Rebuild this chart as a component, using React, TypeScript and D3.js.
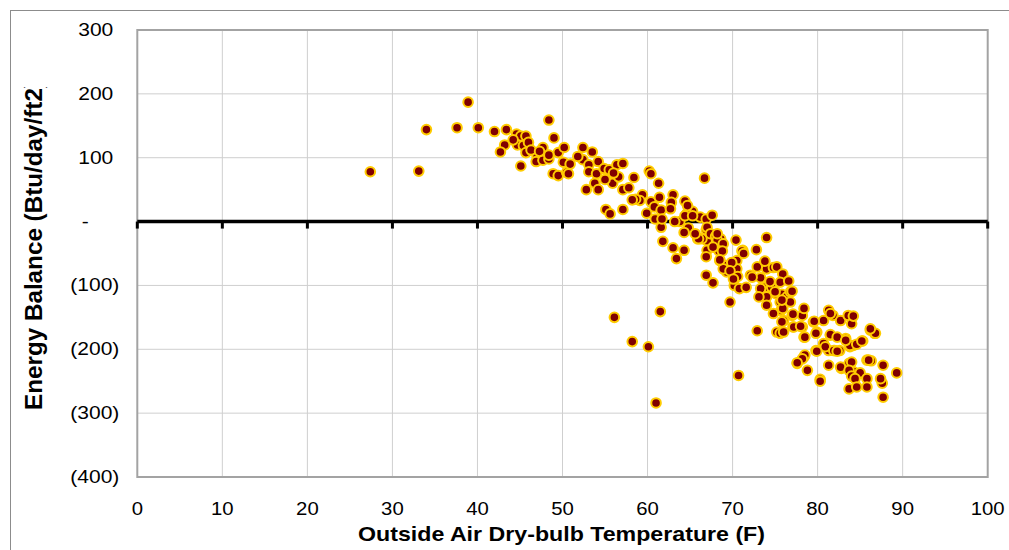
import React, { useEffect, useRef } from 'react';
import * as d3 from 'd3';

// outside air dry-bulb temperature (F) for each day
const outsideTemp = [
  27.4, 33.1, 34.0, 37.6, 38.9, 40.1, 42.0, 43.4, 43.2, 42.7,
  44.6, 45.1, 45.7, 44.7, 45.4, 46.0, 45.7, 45.1, 48.4, 49.0,
  47.7, 47.0, 46.9, 47.7, 48.4, 49.5, 50.2, 48.9, 49.5, 50.1,
  50.5, 48.4, 50.9, 50.7, 52.4, 53.5, 52.4, 53.1, 54.2, 53.1,
  54.0, 54.9, 55.5, 56.4, 57.1, 53.8, 52.8, 54.2, 55.9, 56.6,
  57.1, 57.8, 58.4, 55.1, 55.6, 57.1, 60.2, 60.4, 61.3, 59.4,
  59.1, 60.4, 61.4, 60.8, 59.9, 61.6, 61.6, 61.8, 63.0, 64.3,
  63.4, 66.7, 64.4, 65.3, 64.6, 63.8, 63.2, 66.2, 64.8, 65.9,
  66.9, 67.0, 67.0, 66.9, 66.9, 58.6, 58.2, 60.9, 61.7, 63.0,
  62.8, 62.7, 64.7, 64.4, 65.3, 64.3, 66.9, 67.6, 67.0, 66.4,
  67.4, 68.0, 68.6, 68.2, 68.9, 68.4, 68.5, 69.3, 69.3, 70.4,
  71.2, 70.5, 70.5, 70.6, 70.2, 70.8, 71.6, 72.1, 72.8, 72.9,
  73.3, 74.0, 74.0, 73.8, 74.6, 74.8, 75.2, 75.9, 75.6, 75.1,
  75.8, 75.6, 75.7, 76.4, 76.8, 76.6, 76.0, 75.2, 75.8, 77.0,
  77.1, 78.2, 78.4, 78.4, 79.5, 79.9, 80.7, 81.3, 81.8, 82.7,
  83.6, 84.0, 79.8, 80.7, 81.3, 82.0, 82.6, 81.5, 83.3, 83.8,
  84.2, 85.3, 86.2, 86.7, 77.6, 78.4, 78.8, 80.3, 81.3, 82.8,
  83.7, 84.2, 84.9, 85.8, 86.3, 87.7, 89.3, 70.7, 72.9, 69.7,
  67.7, 61.5, 60.1, 58.2, 56.1, 61.0, 71.1, 71.3, 69.9, 68.9,
  69.7, 68.8, 67.7, 68.2, 66.0, 65.6, 70.1, 72.3, 73.8, 74.4,
  73.3, 74.0, 75.0, 77.0, 74.0, 74.8, 75.9, 77.2, 78.2, 78.5,
  79.8, 75.6, 73.1, 76.8, 75.8, 77.1, 76.0, 78.0, 79.6, 81.5,
  84.2, 81.5, 82.3, 83.8, 84.6, 85.2, 83.3, 80.9, 81.9, 82.3,
  79.9, 78.5, 78.2, 77.6, 82.7, 84.0, 83.7, 85.0, 84.0, 84.4,
  85.8, 86.0, 87.6, 86.8, 80.3, 83.7, 84.6, 85.8, 87.7, 87.4,
  86.2, 68.5, 46.3, 44.2, 47.3, 51.8, 55.0, 56.0,
];

// energy balance (Btu/day/ft2), same order as outsideTemp
const energyBalance = [
  78, 79, 144, 147, 187, 147, 141, 144, 120, 109,
  137, 134, 134, 120, 119, 124, 108, 87, 159, 131,
  116, 103, 94, 96, 98, 108, 116, 75, 72, 93,
  77, 104, 90, 75, 116, 109, 97, 89, 94, 78,
  75, 83, 81, 89, 91, 60, 50, 50, 60, 70,
  50, 53, 69, 19, 12, 19, 79, 75, 60, 42,
  33, 31, 38, 23, 13, 18, -9, -31, -41, -45,
  -58, 68, 32, 16, 12, 0, 0, 7, -10, -27,
  -13, -30, -45, -55, -84, 35, 34, 4, 4, 42,
  30, 20, 25, 9, 9, -17, 4, 10, -9, -27,
  -19, -23, -27, -29, -35, -46, -61, -69, -79, -29,
  -45, -61, -74, -86, -100, -105, -103, -84, -44, -71,
  -88, -25, -74, -103, -103, -72, -71, -82, -95, -113,
  -114, -126, -139, -118, -110, -93, -155, -173, -157, -147,
  -165, -147, -136, -181, -157, -173, -155, -139, -147, -155,
  -147, -160, -202, -191, -202, -202, -202, -178, -183, -196,
  -194, -187, -170, -175, -222, -212, -233, -247, -225, -230,
  -222, -235, -238, -217, -218, -225, -237, -241, -171, -126,
  -96, -141, -196, -188, -150, -284, -46, -50, -64, -74,
  -77, -46, -40, -19, -27, -19, -90, -87, -62, -94,
  -105, -118, -110, -109, -131, -144, -136, -165, -165, -181,
  -175, -175, -118, -126, -123, -145, -173, -164, -156, -144,
  -148, -177, -181, -194, -192, -187, -186, -196, -202, -203,
  -203, -209, -215, -221, -228, -220, -233, -237, -242, -246,
  -246, -217, -253, -175, -250, -262, -259, -259, -275, -246,
  -168, -60, 112, 128, 110, 102, 66, 76,
];

const xTicks = [0, 10, 20, 30, 40, 50, 60, 70, 80, 90, 100];
const yTicks = [300, 200, 100, 0, -100, -200, -300, -400];

const FONT = '"Liberation Sans", Arial, sans-serif';

const fmtBalance = (v) => (v === 0 ? '-' : v < 0 ? `(${Math.abs(v)})` : `${v}`);

const App = () => {
  const ref = useRef(null);

  useEffect(() => {
    const svg = d3.select(ref.current);
    svg.selectAll('*').remove();

    const left = 137.3, right = 987.7, top = 30, bottom = 477;

    const x = d3.scaleLinear().domain([0, 100]).range([left, right]);
    const y = d3.scaleLinear().domain([-400, 300]).range([bottom, top]);

    svg.append('rect').attr('width', 1009).attr('height', 550).attr('fill', '#fff');

    // outer chart frame
    svg.append('rect')
      .attr('x', 10.5).attr('y', 10.5)
      .attr('width', 1100).attr('height', 600)
      .attr('fill', 'none').attr('stroke', '#8c8c8c').attr('stroke-width', 1);

    // gridlines
    svg.append('g')
      .selectAll('line')
      .data(xTicks.slice(1, -1))
      .enter().append('line')
      .attr('x1', d => x(d)).attr('x2', d => x(d))
      .attr('y1', top).attr('y2', bottom)
      .attr('stroke', '#cfcfcf').attr('stroke-width', 1);

    svg.append('g')
      .selectAll('line')
      .data(yTicks.filter(d => d !== 0 && d !== 300 && d !== -400))
      .enter().append('line')
      .attr('x1', left).attr('x2', right)
      .attr('y1', d => y(d)).attr('y2', d => y(d))
      .attr('stroke', '#cfcfcf').attr('stroke-width', 1);

    // plot border
    svg.append('rect')
      .attr('x', left).attr('y', top)
      .attr('width', right - left).attr('height', bottom - top)
      .attr('fill', 'none').attr('stroke', '#a3a3a3').attr('stroke-width', 2);

    // zero axis with ticks
    svg.append('line')
      .attr('x1', left).attr('x2', right)
      .attr('y1', y(0)).attr('y2', y(0))
      .attr('stroke', '#000').attr('stroke-width', 3.5);

    svg.append('g')
      .selectAll('line')
      .data(xTicks)
      .enter().append('line')
      .attr('x1', d => x(d)).attr('x2', d => x(d))
      .attr('y1', y(0)).attr('y2', y(0) + 7)
      .attr('stroke', '#000').attr('stroke-width', 3);

    // y tick labels
    svg.append('g')
      .selectAll('text')
      .data(yTicks)
      .enter().append('text')
      .attr('transform', d => {
        const px = d === 0 ? 85.3 : d < 0 ? 119.3 : 113.3;
        return `translate(${px},${y(d) + 6}) scale(1.2,1)`;
      })
      .attr('text-anchor', d => (d === 0 ? 'middle' : 'end'))
      .style('font-family', FONT)
      .style('font-size', '17.5px')
      .attr('fill', '#000')
      .text(d => fmtBalance(d));

    // x tick labels
    svg.append('g')
      .selectAll('text')
      .data(xTicks)
      .enter().append('text')
      .attr('transform', d => `translate(${x(d)},514.5) scale(1.13,1)`)
      .attr('text-anchor', 'middle')
      .style('font-family', FONT)
      .style('font-size', '18px')
      .attr('fill', '#000')
      .text(d => d);

    // axis titles
    svg.append('text')
      .attr('x', 358).attr('y', 541)
      .attr('textLength', 407).attr('lengthAdjust', 'spacingAndGlyphs')
      .style('font-family', FONT).style('font-size', '21px').style('font-weight', 'bold')
      .text('Outside Air Dry-bulb Temperature (F)');

    svg.append('clipPath').attr('id', 'ytitle-clip')
      .append('rect').attr('x', 0).attr('y', 87).attr('width', 130).attr('height', 450);

    svg.append('g').attr('clip-path', 'url(#ytitle-clip)')
      .append('text')
      .attr('transform', 'translate(41.7,410) rotate(-90)')
      .attr('textLength', 330).attr('lengthAdjust', 'spacingAndGlyphs')
      .style('font-family', FONT).style('font-size', '23px').style('font-weight', 'bold')
      .text('Energy Balance (Btu/day/ft2)');

    // points
    svg.append('g')
      .selectAll('circle')
      .data(outsideTemp.map((t, i) => [t, energyBalance[i]]))
      .enter().append('circle')
      .attr('cx', d => x(d[0]))
      .attr('cy', d => y(d[1]))
      .attr('r', 4.8)
      .attr('fill', '#800000')
      .attr('stroke', '#ffcc00')
      .attr('stroke-width', 2);
  }, []);

  return (
    <svg
      ref={ref}
      width={1009}
      height={550}
      style={{ position: 'absolute', left: 0, top: 0, display: 'block' }}
    />
  );
};

export default App;
